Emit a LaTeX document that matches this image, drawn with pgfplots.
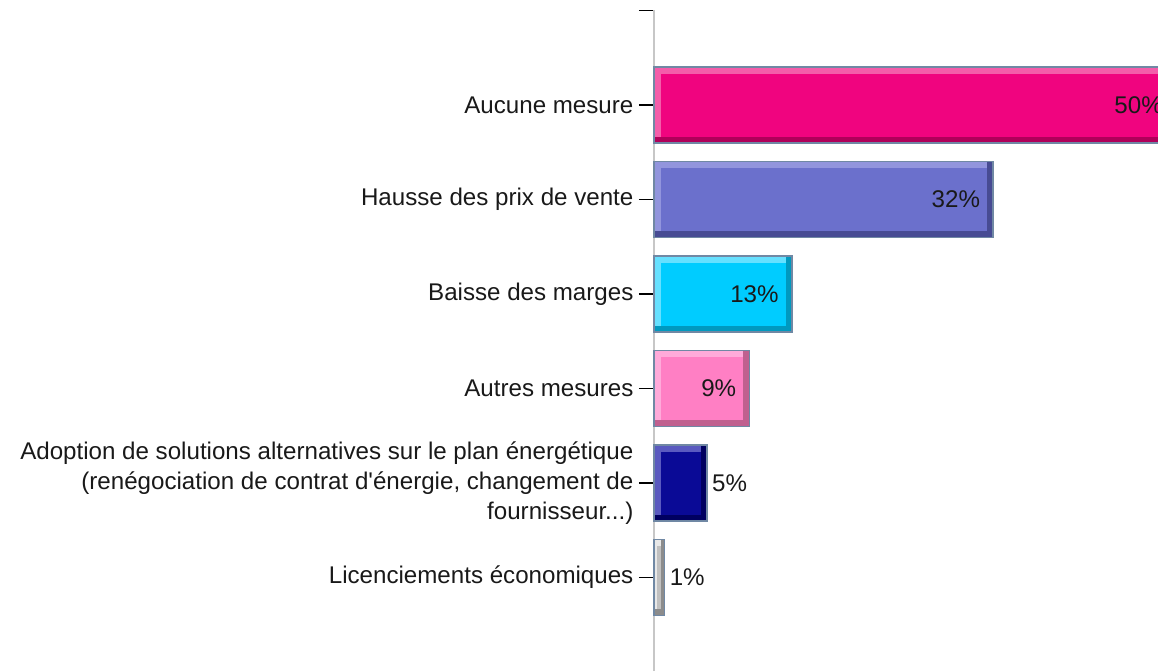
\documentclass[border=0pt]{standalone}
\usepackage{fontspec}
\setmainfont{Liberation Sans}
\usepackage{pgfplots}
\pgfplotsset{compat=1.18}

\definecolor{edge}{HTML}{7088A4}
\definecolor{c1}{HTML}{F0047F}\definecolor{c1l}{HTML}{F45DAA}\definecolor{c1d}{HTML}{B0005A}
\definecolor{c2}{HTML}{6B70CC}\definecolor{c2l}{HTML}{9295DD}\definecolor{c2d}{HTML}{474B93}
\definecolor{c3}{HTML}{00CCFF}\definecolor{c3l}{HTML}{66E0FF}\definecolor{c3d}{HTML}{0099BF}
\definecolor{c4}{HTML}{FF7FC4}\definecolor{c4l}{HTML}{FFAADA}\definecolor{c4d}{HTML}{C0608F}
\definecolor{c5}{HTML}{0A0A96}\definecolor{c5l}{HTML}{5A5AC0}\definecolor{c5d}{HTML}{000060}
\definecolor{c6}{HTML}{C0C0C0}\definecolor{c6l}{HTML}{E8E8E8}\definecolor{c6d}{HTML}{8C8C8C}

% one bevelled bar: #1 category, #2 value, #3 colour prefix, #4 left inset, #5 right inset, #6 label style
\newcommand\bevelbar[6]{%
  \addplot[fill=#3d, draw=none, bar width=57pt, bar shift=0pt] coordinates {(#2,#1)};
  \addplot[fill=#3l, draw=none, bar width=52.5pt, bar shift=2.25pt,
    x filter/.expression={x-#5}] coordinates {(#2,#1)};
  \addplot[fill=#3, draw=none, bar width=47.25pt, bar shift=-0.375pt,
    x filter/.expression={x-#5}] coordinates {(#2,#1)};
  \addplot[fill=#3l, draw=none, bar width=47.25pt, bar shift=-0.375pt,
    x filter/.expression={#4}] coordinates {(#2,#1)};
  \addplot[fill=none, draw=edge, line width=1.1pt, bar width=57pt, bar shift=0pt,
    nodes near coords={\pgfmathprintnumber{\pgfplotspointmeta}\%},
    every node near coord/.append style={#6}] coordinates {(#2,#1)};
}

\begin{document}
\begin{tikzpicture}
\begin{axis}[
    name=ax,
    scale only axis,
    width=378pt, height=495.4pt,
    xbar,
    xmin=0, xmax=47.55,
    ymin=-0.99, ymax=6,
    axis x line=none,
    axis y line*=left,
    y axis line style={draw=black!22, line width=1pt},
    ytick={0,1,2,3,4,5,6},
    yticklabels={
      Licenciements économiques,
      {Adoption de solutions alternatives sur le plan énergétique\\(renégociation de contrat d\textquotesingle énergie, changement de\\fournisseur{.}{.}{.})},
      Autres mesures,
      Baisse des marges,
      Hausse des prix de vente,
      Aucune mesure,
      {}},
    tick align=outside,
    major tick length=11.25pt,
    ytick style={black, line width=1pt},
    yticklabel style={font=\fontsize{18.1}{22.3}\selectfont, align=right, text=black!90, inner sep=4pt},
    nodes near coords style={font=\fontsize{18.1}{21}\selectfont, text=black!90},
    /pgf/number format/assume math mode=true,
    point meta=x,
    clip=false,
]
\bevelbar{5}{50}{c1}{0.66}{0.57}{anchor=east, xshift=-12pt}
\bevelbar{4}{32}{c2}{0.66}{0.57}{anchor=east, xshift=-6pt}
\bevelbar{3}{13}{c3}{0.66}{0.57}{anchor=east, xshift=-6pt}
\bevelbar{2}{9}{c4}{0.66}{0.57}{anchor=east, xshift=-6pt}
\bevelbar{1}{5}{c5}{0.66}{0.57}{anchor=west, xshift=0pt}
\bevelbar{0}{1}{c6}{0.25}{0.3}{anchor=west, xshift=0pt}
\end{axis}
\pgfresetboundingbox
\path[use as bounding box] ([xshift=-490.5pt]ax.south west) rectangle ([yshift=7.875pt]ax.north east);
\end{tikzpicture}
\end{document}
